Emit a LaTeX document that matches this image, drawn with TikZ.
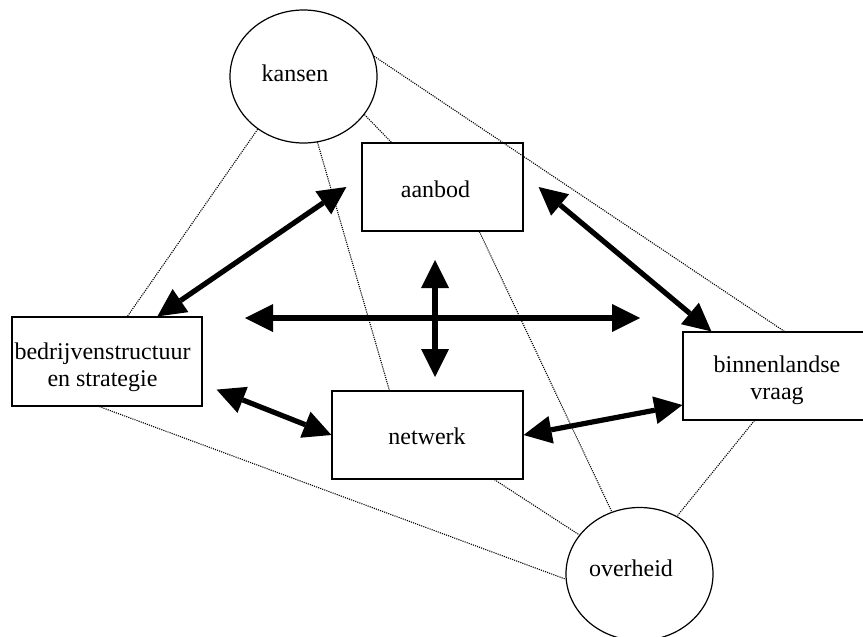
\documentclass[tikz,border=0pt]{standalone}
\usepackage{fontspec}
\setmainfont{Liberation Serif}
\usetikzlibrary{shapes.geometric,arrows.meta,calc}
\begin{document}
\begin{tikzpicture}[x=1pt,y=-1pt,
  box/.style={draw,line width=1.2pt,rectangle,inner sep=0pt},
  ell/.style={draw,line width=1.2pt,ellipse,inner sep=0pt,minimum width=147pt,minimum height=133pt},
  txt/.style={font=\fontsize{24}{27}\selectfont,inner sep=0pt},
  txttwo/.style={font=\fontsize{24}{27}\selectfont,inner sep=0pt,align=center},
  dots/.style={line width=1.1pt,dash pattern=on 1.1pt off 1.1pt},
  big/.style={line width=5.2pt,{Triangle[length=28pt,width=28pt,line width=0pt]}-{Triangle[length=28pt,width=28pt,line width=0pt]}}
]
\useasboundingbox (0,0) rectangle (863,637);
\fill[white] (0,0) rectangle (863,637);
\clip (0,0) rectangle (863,637);

% shapes
\node[ell] (kansen) at (303.5,76.5) {};
\node[box,minimum width=161pt,minimum height=88pt] (aanbod) at (442.5,187) {};
\node[box,minimum width=190pt,minimum height=89pt] (bedr) at (107,361.5) {};
\node[box,minimum width=187pt,minimum height=88pt] (binn) at (776.5,376) {};
\node[box,minimum width=191pt,minimum height=88pt] (netw) at (427.5,435) {};
\node[ell] (overheid) at (639.5,574) {};

% texts
\node[txt,anchor=base] (kansent) at (295,81) {kansen};
\node[txt,anchor=base] (aanbodt) at (435.5,197) {aanbod};
\node[txt,anchor=base] (netwt) at (427,444) {netwerk};
\node[txt,anchor=base] (overheidt) at (631,576) {overheid};
\node[txttwo] (bedrt) at (102.5,367) {bedrijvenstructuur\\en strategie};
\node[txttwo] (binnt) at (777,380.5) {binnenlandse\\vraag};

% dotted relations
\draw[dots] (kansen.229.6) -- ($(bedr.north west)+(116,0)$);
\draw[dots] (kansen.282) -- ($(netw.north west)+(58,0)$);
\draw[dots] (kansen.328) -- ($(aanbod.north west)+(30,0)$);
\draw[dots] (kansen.16.5) -- ($(binn.north west)+(102,0)$);
\draw[dots] ($(aanbod.south west)+(118,0)$) -- (overheid.114);
\draw[dots] ($(netw.south west)+(163,0)$) -- (overheid.147);
\draw[dots] ($(bedr.south west)+(88,0)$) -- (overheid.184);
\draw[dots] ($(binn.south west)+(72,0)$) -- (overheid.57);

% thick double arrows
\coordinate (hl) at (245,318);
\coordinate (hr) at (640,318);
\coordinate (vt) at (435,260);
\coordinate (vb) at (435,377);
\draw[big] ([xshift=-15pt]aanbod.west) -- ($(bedr.north west)+(146,0)$);
\draw[big] ([xshift=15pt]aanbod.east) -- ($(binn.north west)+(29,0)$);
\draw[big] (hl) -- (hr);
\draw[big] (vt) -- (vb);
\draw[big] ($(bedr.south east)+(14,-17)$) -- (netw.west);
\draw[big] (netw.east) -- ($(binn.west)+(0,29)$);
\end{tikzpicture}
\end{document}
